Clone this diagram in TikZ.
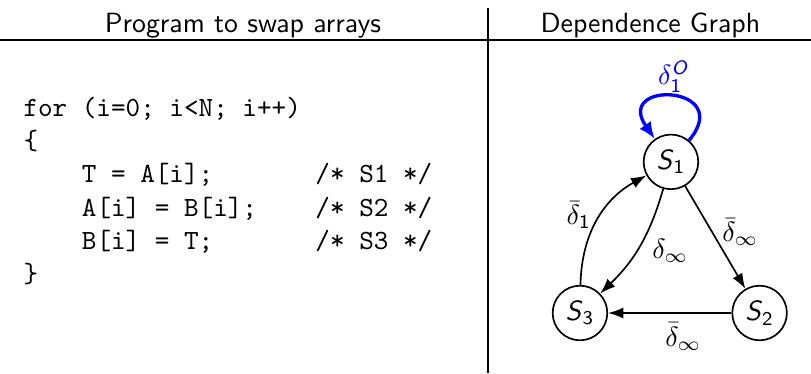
\documentclass[tikz,border=0pt]{standalone}
\usepackage{amsmath}
\usepackage{fontspec}
\usepackage{tikz}
\usetikzlibrary{arrows.meta,positioning}
\tikzset{
  stmt/.style={draw, semithick, circle, minimum size=0.69cm, inner sep=0pt, font=\sffamily},
  code/.style={font=\ttfamily, align=left, inner sep=0pt, anchor=base west},
  head/.style={font=\sffamily, anchor=base},
  dep/.style={-{Latex[length=5.5pt,width=4pt]}, semithick},
  selfdep/.style={-{Latex[length=6pt,width=5pt]}, blue, line width=1.2pt}
}
\newcommand{\stm}[1]{\textit{S}$_{\mathsf{#1}}$}

\begin{document}
\begin{tikzpicture}
\useasboundingbox (0,0) rectangle (10.25,4.716);
% table rules
\coordinate (hl) at (0,4.21);
\coordinate (hr) at (10.25,4.21);
\coordinate (vt) at (6.17,4.61);
\coordinate (vb) at (6.17,0);
\draw[line width=1pt] (hl) -- (hr);
\draw[semithick] (vt) -- (vb);
\node[head] (prog) at (3.07,4.31) {Program to swap arrays};
\node[head] (dg) at (8.22,4.31) {Dependence Graph};
% the loop (base = last line)
\node[code] (swap) at (0.29,1.14) {for (i=0; i<N; i++)\\
\{\\
~~~~T~=~A[i];~~~~~~~/*~S1~*/\\
~~~~A[i]~=~B[i];~~~~/*~S2~*/\\
~~~~B[i]~=~T;~~~~~~~/*~S3~*/\\
\}};
% the graph
\node[stmt] (s1) at (8.48,2.67) {\stm{1}};
\node[stmt, on grid, below left=1.91cm and 1.15cm of s1] (s3) {\stm{3}};
\node[stmt, on grid, below right=1.91cm and 1.12cm of s1] (s2) {\stm{2}};
\draw[dep] (s1) -- node[right, pos=0.45] {$\bar\delta_\infty$} (s2);
\draw[dep] (s2) -- node[below, pos=0.39] {$\bar\delta_\infty$} (s3);
\draw[dep] (s1) to[bend left=15] node[right, pos=0.55, xshift=2pt] {$\delta_\infty$} (s3);
\draw[dep] (s3) to[bend left=30] node[left, pos=0.55] {$\bar\delta_{\mathsf{1}}$} (s1);
\draw[selfdep] (s1) to[out=50, in=125, looseness=5.4] node[above, inner sep=1pt] {$\delta_{\mathsf{1}}^{\textsf{\textit{O}}}$} (s1);
\end{tikzpicture}
\end{document}
